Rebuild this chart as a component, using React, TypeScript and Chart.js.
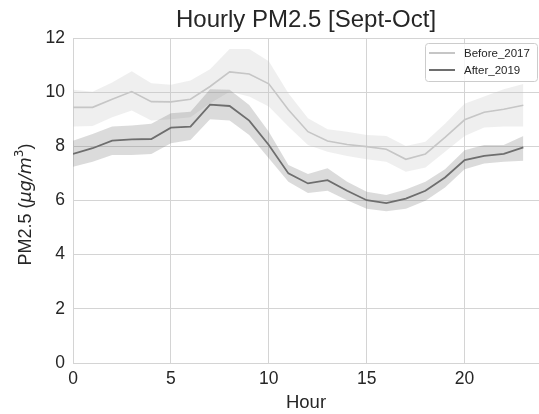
import React, { useEffect, useRef } from "react";
import { Chart, registerables } from "chart.js";

Chart.register(...registerables);

const hours = [0, 1, 2, 3, 4, 5, 6, 7, 8, 9, 10, 11, 12, 13, 14, 15, 16, 17, 18, 19, 20, 21, 22, 23];

const beforeMean = [9.44, 9.44, 9.74, 10.02, 9.65, 9.64, 9.74, 10.21, 10.75, 10.67, 10.31, 9.35, 8.54, 8.2, 8.07, 7.99, 7.89, 7.52, 7.72, 8.33, 8.98, 9.26, 9.37, 9.52];
const beforeUpper = [10.09, 10.02, 10.36, 10.77, 10.33, 10.27, 10.43, 10.85, 11.59, 11.59, 11.14, 9.96, 9.04, 8.63, 8.54, 8.42, 8.38, 8.01, 8.17, 8.83, 9.57, 9.84, 10.11, 10.3];
const beforeLower = [8.73, 8.75, 9.07, 9.32, 8.95, 9.0, 9.07, 9.59, 10.02, 9.84, 9.47, 8.73, 8.05, 7.8, 7.64, 7.52, 7.43, 7.06, 7.22, 7.8, 8.38, 8.7, 8.73, 8.73];

const afterMean = [7.72, 7.93, 8.21, 8.26, 8.27, 8.69, 8.73, 9.54, 9.49, 8.95, 8.05, 7.0, 6.63, 6.75, 6.36, 6.01, 5.9, 6.07, 6.36, 6.85, 7.49, 7.65, 7.72, 7.96];
const afterUpper = [8.21, 8.46, 8.73, 8.77, 8.83, 9.22, 9.28, 10.11, 10.09, 9.53, 8.54, 7.31, 6.98, 7.19, 6.69, 6.32, 6.2, 6.41, 6.69, 7.15, 7.86, 8.05, 8.05, 8.38];
const afterLower = [7.25, 7.43, 7.68, 7.68, 7.72, 8.11, 8.23, 9.0, 8.95, 8.42, 7.56, 6.69, 6.28, 6.36, 6.01, 5.7, 5.6, 5.7, 5.99, 6.48, 7.15, 7.37, 7.43, 7.47];

const seriesNames = ["Before_2017", "After_2019"];
const yTicks = [0, 2, 4, 6, 8, 10, 12];
const xTicks = [0, 5, 10, 15, 20];

const FONT = "'Liberation Sans', Arial, sans-serif";
const MATH = "'DejaVu Sans', sans-serif";
const TEXT = "#262626";
const GRID = "#d4d4d4";
const BEFORE_LINE = "#c6c6c6";
const AFTER_LINE = "#6e6e6e";
const BEFORE_BAND = "rgba(190,190,190,0.25)";
const AFTER_BAND = "rgba(110,110,110,0.25)";

const pts = (ys: number[]) => hours.map((h, i) => ({ x: h, y: ys[i] }));

const legendPlugin = {
  id: "customLegend",
  afterDraw(chart: any) {
    const ctx = chart.ctx as CanvasRenderingContext2D;
    const area = chart.chartArea;
    const w = 112;
    const h = 38;
    const x = area.right - 2 - w;
    const y = area.top + 5;
    ctx.save();
    ctx.fillStyle = "rgba(255,255,255,0.8)";
    ctx.strokeStyle = "#cccccc";
    ctx.lineWidth = 1;
    ctx.beginPath();
    (ctx as any).roundRect(x + 0.5, y + 0.5, w, h, 3);
    ctx.fill();
    ctx.stroke();
    const colors = [BEFORE_LINE, AFTER_LINE];
    ctx.font = `11.5px ${FONT}`;
    ctx.textBaseline = "middle";
    ctx.textAlign = "left";
    seriesNames.forEach((name, i) => {
      const ry = y + 10 + i * 17;
      ctx.strokeStyle = colors[i];
      ctx.lineWidth = 2;
      ctx.beginPath();
      ctx.moveTo(x + 4, ry);
      ctx.lineTo(x + 30, ry);
      ctx.stroke();
      ctx.fillStyle = TEXT;
      ctx.fillText(name, x + 39, ry + 1);
    });
    ctx.restore();
  },
};

// y-axis label with mathtext-like styling: PM2.5 ($\mu g/m^3$)
const yLabelPlugin = {
  id: "yLabel",
  afterDraw(chart: any) {
    const ctx = chart.ctx as CanvasRenderingContext2D;
    const area = chart.chartArea;
    const parts = [
      { t: "PM2.5 (", f: `18px ${FONT}`, dy: 0 },
      { t: "μg/m", f: `italic 17.5px ${MATH}`, dy: 0 },
      { t: "3", f: `12px ${MATH}`, dy: -7.5 },
      { t: ")", f: `18px ${FONT}`, dy: 0 },
    ];
    ctx.save();
    let total = 0;
    const widths = parts.map((p) => {
      ctx.font = p.f;
      const w = ctx.measureText(p.t).width;
      total += w;
      return w;
    });
    const cx = 24;
    const cy = (area.top + area.bottom) / 2 + 4;
    ctx.translate(cx, cy);
    ctx.rotate(-Math.PI / 2);
    ctx.fillStyle = TEXT;
    ctx.textBaseline = "alphabetic";
    ctx.textAlign = "left";
    let xx = -total / 2;
    parts.forEach((p, i) => {
      ctx.font = p.f;
      ctx.fillText(p.t, xx, 6.5 + p.dy);
      xx += widths[i];
    });
    ctx.restore();
  },
};

export default function App() {
  const ref = useRef<HTMLCanvasElement>(null);
  useEffect(() => {
    if (!ref.current) return;
    const chart = new Chart(ref.current, {
      type: "line",
      data: {
        datasets: [
          { label: "bu", data: pts(beforeUpper), borderWidth: 0, pointRadius: 0, fill: false, order: 3, borderColor: "transparent" },
          { label: "bl", data: pts(beforeLower), borderWidth: 0, pointRadius: 0, fill: "-1", backgroundColor: BEFORE_BAND, order: 3, borderColor: "transparent" },
          { label: "au", data: pts(afterUpper), borderWidth: 0, pointRadius: 0, fill: false, order: 2, borderColor: "transparent" },
          { label: "al", data: pts(afterLower), borderWidth: 0, pointRadius: 0, fill: "-1", backgroundColor: AFTER_BAND, order: 2, borderColor: "transparent" },
          { label: seriesNames[0], data: pts(beforeMean), borderColor: BEFORE_LINE, borderWidth: 1.6, pointRadius: 0, fill: false, order: 1 },
          { label: seriesNames[1], data: pts(afterMean), borderColor: AFTER_LINE, borderWidth: 1.8, pointRadius: 0, fill: false, order: 0 },
        ],
      },
      options: {
        animation: false,
        responsive: false,
        devicePixelRatio: 1,
        layout: { padding: { left: 0, right: 0, top: 0, bottom: 0 } },
        plugins: {
          legend: { display: false },
          tooltip: { enabled: false },
          title: {
            display: true,
            text: "Hourly PM2.5 [Sept-Oct]",
            fullSize: false,
            color: TEXT,
            font: { family: FONT, size: 24, weight: "normal", lineHeight: 1.2 },
            padding: { top: 6, bottom: 3.2 },
          },
        },
        scales: {
          x: {
            type: "linear",
            min: 0,
            max: 23.8,
            afterBuildTicks: (scale: any) => {
              scale.ticks = xTicks.map((v) => ({ value: v }));
            },
            afterFit: (scale: any) => {
              scale.height = 51;
            },
            ticks: { color: TEXT, font: { family: FONT, size: 17.5 }, padding: 6, maxRotation: 0 },
            grid: { color: GRID, drawTicks: false, lineWidth: 1 },
            border: { color: GRID },
            title: { display: true, text: "Hour", color: TEXT, font: { family: FONT, size: 18.5 }, padding: { top: 0, bottom: 0 } },
          },
          y: {
            type: "linear",
            min: 0,
            max: 12,
            afterBuildTicks: (scale: any) => {
              scale.ticks = yTicks.map((v) => ({ value: v }));
            },
            afterFit: (scale: any) => {
              scale.width = 73;
            },
            ticks: { color: TEXT, font: { family: FONT, size: 17.5 }, padding: 8 },
            grid: { color: GRID, drawTicks: false, lineWidth: 1 },
            border: { color: GRID },
            title: { display: false },
          },
        },
      },
      plugins: [legendPlugin, yLabelPlugin],
    });
    return () => chart.destroy();
  }, []);
  return (
    <div style={{ position: "fixed", left: 0, top: 0, width: 539, height: 414, background: "#fff" }}>
      <canvas ref={ref} width={539} height={414} style={{ width: 539, height: 414, display: "block" }} />
    </div>
  );
}
